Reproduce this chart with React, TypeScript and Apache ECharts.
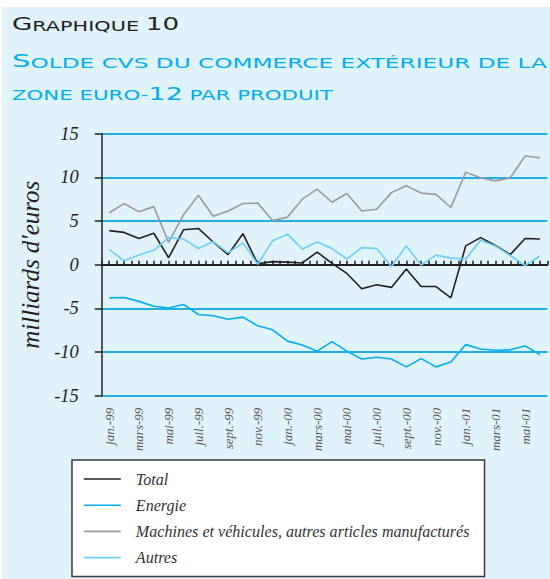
import React, { useEffect, useRef } from "react";
import * as echarts from "echarts";

const months = [
  "jan.-99", "févr.-99", "mars-99", "avr.-99", "mai-99", "juin-99",
  "juil.-99", "août-99", "sept.-99", "oct.-99", "nov.-99", "déc.-99",
  "jan.-00", "févr.-00", "mars-00", "avr.-00", "mai-00", "juin-00",
  "juil.-00", "août-00", "sept.-00", "oct.-00", "nov.-00", "déc.-00",
  "jan.-01", "févr.-01", "mars-01", "avr.-01", "mai-01", "juin-01",
];

const total = [
  3.9, 3.7, 3.0, 3.6, 0.8, 4.0, 4.15, 2.6, 1.15, 3.55, 0.1, 0.35, 0.3, 0.2, 1.45,
  0.15, -1.0, -2.75, -2.3, -2.6, -0.5, -2.5, -2.5, -3.8, 2.15, 3.1, 2.2, 1.15, 3.0, 2.95,
];
const energie = [
  -3.8, -3.75, -4.2, -4.75, -4.95, -4.55, -5.7, -5.85, -6.25, -6.0, -7.0, -7.45, -8.75, -9.2, -9.9,
  -8.8, -9.9, -10.8, -10.6, -10.8, -11.7, -10.75, -11.7, -11.15, -9.15, -9.65, -9.8, -9.75, -9.3, -10.3,
];
const machines = [
  5.95, 7.0, 6.05, 6.65, 2.55, 5.7, 7.95, 5.55, 6.15, 7.0, 7.05, 5.05, 5.45, 7.5, 8.65,
  7.15, 8.15, 6.15, 6.35, 8.25, 9.05, 8.2, 8.05, 6.55, 10.6, 9.95, 9.6, 9.95, 12.45, 12.25,
];
const autres = [
  1.75, 0.45, 1.1, 1.65, 3.1, 2.95, 1.85, 2.65, 1.35, 2.5, 0.05, 2.75, 3.5, 1.8, 2.6,
  1.85, 0.65, 1.95, 1.85, -0.2, 2.15, -0.05, 1.1, 0.75, 0.65, 2.8, 2.15, 1.05, -0.1, 1.0,
];

const seriesNames = [
  "Total",
  "Energie",
  "Machines et véhicules, autres articles manufacturés",
  "Autres",
];
const seriesData = [total, energie, machines, autres];
const seriesColors = ["#231f20", "#00aeef", "#9b9b9b", "#6dcff6"];

const SERIF = "'Liberation Serif', 'DejaVu Serif', serif";
const WIDE = "'DejaVu Sans', sans-serif";
const GRIDBLUE = "#22aee6";

export default function App() {
  const ref = useRef<HTMLDivElement>(null);
  useEffect(() => {
    document.body.style.margin = "0";
    const chart = echarts.init(ref.current!, null, { renderer: "svg" });
    const option: any = {
      animation: false,
      backgroundColor: "#ffffff",
      graphic: [
        {
          type: "rect",
          z: -100,
          silent: true,
          shape: { x: 2, y: 7, width: 548, height: 572 },
          style: { fill: "#e0f2fa" },
        },
        {
          type: "text",
          x: 12,
          y: 33,
          scaleX: 1.54,
          style: {
            text: "{c|G}{s|RAPHIQUE }{c|10}",
            verticalAlign: "bottom",
            rich: {
              c: { fontSize: 17, lineHeight: 17, fontFamily: WIDE, fill: "#231f20", verticalAlign: "bottom" },
              s: { fontSize: 13.5, lineHeight: 17, fontFamily: WIDE, fill: "#231f20", verticalAlign: "bottom" },
            },
          },
        },
        {
          type: "text",
          x: 12,
          y: 70,
          scaleX: 1.72,
          style: {
            text: "{c|S}{s|OLDE CVS DU COMMERCE EXTÉRIEUR DE LA}",
            verticalAlign: "bottom",
            rich: {
              c: { fontSize: 17, lineHeight: 17, fontFamily: WIDE, fill: "#00aeef", verticalAlign: "bottom" },
              s: { fontSize: 13.5, lineHeight: 17, fontFamily: WIDE, fill: "#00aeef", verticalAlign: "bottom" },
            },
          },
        },
        {
          type: "text",
          x: 12,
          y: 102,
          scaleX: 1.58,
          style: {
            text: "{s|ZONE EURO-}{c|12}{s| PAR PRODUIT}",
            verticalAlign: "bottom",
            rich: {
              c: { fontSize: 17, lineHeight: 17, fontFamily: WIDE, fill: "#00aeef", verticalAlign: "bottom" },
              s: { fontSize: 13.5, lineHeight: 17, fontFamily: WIDE, fill: "#00aeef", verticalAlign: "bottom" },
            },
          },
        },
      ],
      grid: { left: 101.8, right: 2.6, top: 133.7, bottom: 183.3, containLabel: false },
      legend: {
        data: seriesNames,
        orient: "vertical",
        left: 72,
        top: 460,
        height: 300,
        padding: [11, 15, 11, 11],
        itemGap: 10.2,
        itemWidth: 37,
        itemHeight: 14,
        backgroundColor: "#ffffff",
        borderColor: "#3a3a3a",
        borderWidth: 1.5,
        selectedMode: false,
        itemStyle: { opacity: 0 },
        lineStyle: { width: 1.6 },
        textStyle: {
          fontFamily: SERIF,
          fontStyle: "italic",
          fontSize: 16.1,
          color: "#333333",
          padding: [0, 0, 0, 10],
        },
      },
      xAxis: [
        {
          type: "category",
          data: months,
          boundaryGap: true,
          position: "bottom",
          axisLine: { show: false, onZero: false },
          axisTick: { show: false },
          splitLine: { show: false },
          axisLabel: {
            interval: 1,
            rotate: 90,
            margin: 12,
            fontFamily: SERIF,
            fontStyle: "italic",
            fontSize: 13,
            color: "#555555",
          },
        },
        {
          type: "value",
          min: -0.5,
          max: 29.5,
          interval: 0.5,
          position: "bottom",
          axisLine: { show: true, onZero: true, lineStyle: { color: "#231f20", width: 2 } },
          axisTick: { show: true, inside: true, length: 4, lineStyle: { color: "#231f20", width: 1.5 } },
          axisLabel: { show: false },
          splitLine: { show: false },
        },
      ],
      yAxis: {
        type: "value",
        min: -15,
        max: 15,
        interval: 5,
        name: "milliards d'euros",
        nameLocation: "middle",
        nameGap: 59,
        nameTextStyle: { fontFamily: SERIF, fontStyle: "italic", fontSize: 25, color: "#231f20" },
        axisLine: { show: true, onZero: false, lineStyle: { color: "#231f20", width: 1.5 } },
        axisTick: { show: true, length: 7, lineStyle: { color: "#231f20", width: 1.5 } },
        axisLabel: { margin: 23, fontFamily: SERIF, fontStyle: "italic", fontSize: 18.5, color: "#231f20" },
        splitLine: {
          show: true,
          lineStyle: {
            color: [GRIDBLUE, GRIDBLUE, GRIDBLUE, "rgba(0,0,0,0)", GRIDBLUE, GRIDBLUE, GRIDBLUE],
            width: 2,
          },
        },
      },
      series: seriesNames.map((name, i) => ({
        name,
        type: "line",
        xAxisIndex: 0,
        yAxisIndex: 0,
        data: seriesData[i],
        symbol: "none",
        lineStyle: { width: 1.6, color: seriesColors[i] },
        itemStyle: { color: seriesColors[i] },
        emphasis: { disabled: true },
        z: 3,
      })),
    };
    chart.setOption(option);
    return () => chart.dispose();
  }, []);
  return <div ref={ref} style={{ width: 550, height: 579 }} />;
}
